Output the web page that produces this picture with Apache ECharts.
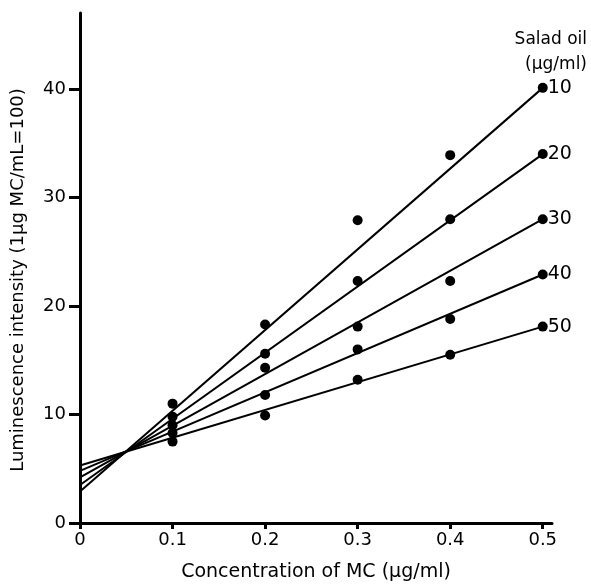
<!DOCTYPE html>
<html>
<head>
<meta charset="utf-8">
<script src="https://cdn.jsdelivr.net/npm/echarts@6/dist/echarts.min.js"></script>
<style>html,body{margin:0;padding:0;background:#fff}#c{width:591px;height:587px}</style>
</head>
<body>
<div id="c"></div>
<script>
// Salad oil concentrations (µg/ml)
const oilLevels = ['10', '20', '30', '40', '50'];
// MC concentrations (µg/ml)
const mcConc = [0.1, 0.2, 0.3, 0.4, 0.5];
// Measured luminescence for each oil level
const lum10 = [11.0, 18.3, 27.9, 33.9, 40.1];
const lum20 = [9.8, 15.6, 22.3, 28.0, 34.0];
const lum30 = [9.0, 14.3, 18.1, 22.3, 28.0];
const lum40 = [8.3, 11.8, 16.0, 18.8, 22.9];
const lum50 = [7.5, 9.9, 13.2, 15.5, 18.1];
// Fitted regression lines: value at x=0 and at x=0.5
const fitX = [0, 0.5];
const fit10 = [2.9, 40.1];
const fit20 = [3.5, 34.0];
const fit30 = [4.2, 28.0];
const fit40 = [4.8, 22.9];
const fit50 = [5.3, 18.1];
// Tick labels
const xTicks = [0, 0.1, 0.2, 0.3, 0.4, 0.5];
const yTicks = [0, 10, 20, 30, 40];

const points = [lum10, lum20, lum30, lum40, lum50];
const fits = [fit10, fit20, fit30, fit40, fit50];
const FONT = 'DejaVu Sans';

const series = [];
oilLevels.forEach((lvl, i) => {
  series.push({
    type: 'line', name: lvl,
    data: fitX.map((x, k) => [x, fits[i][k]]),
    showSymbol: false, silent: true,
    lineStyle: { color: '#000', width: 2 },
    endLabel: { show: true, formatter: lvl, color: '#000', fontFamily: FONT, fontSize: 19, distance: 5 },
    z: 2
  });
  series.push({
    type: 'scatter', name: 'p' + lvl,
    data: mcConc.map((x, k) => [x, points[i][k]]),
    symbol: 'circle', symbolSize: 10,
    itemStyle: { color: '#000', opacity: 1 },
    z: 3
  });
});

const chart = echarts.init(document.getElementById('c'), null, { renderer: 'canvas' });
chart.setOption({
  animation: false,
  backgroundColor: '#fff',
  grid: { left: 80, top: 13, width: 472, height: 515, containLabel: false },
  xAxis: {
    type: 'value', min: 0, max: 0.51, interval: 0.1,
    name: 'Concentration of MC (μg/ml)', nameLocation: 'middle', nameGap: 40,
    nameTextStyle: { color: '#000', fontFamily: FONT, fontSize: 19 },
    axisLine: { show: true, lineStyle: { color: '#000', width: 3 } },
    axisTick: { show: true, length: 6, lineStyle: { color: '#000', width: 3 } },
    axisLabel: {
      color: '#000', fontFamily: FONT, fontSize: 18, margin: 8, showMaxLabel: false,
      formatter: v => { const t = xTicks.find(a => Math.abs(a - v) < 1e-9); return t === undefined ? '' : String(t); }
    },
    splitLine: { show: false }
  },
  yAxis: {
    type: 'value', min: 0, max: 47, interval: 10,
    name: 'Luminescence intensity (1μg MC/mL=100)', nameLocation: 'middle', nameGap: 53,
    nameTextStyle: { color: '#000', fontFamily: FONT, fontSize: 18, padding: [0, 24, 0, 0] },
    axisLine: { show: true, lineStyle: { color: '#000', width: 3 } },
    axisTick: { show: true, length: 11, lineStyle: { color: '#000', width: 3 } },
    axisLabel: {
      color: '#000', fontFamily: FONT, fontSize: 18, margin: 14, showMaxLabel: false,
      formatter: v => (yTicks.indexOf(v) >= 0 ? String(v) : '')
    },
    splitLine: { show: false }
  },
  graphic: [
    { type: 'text', right: 4, top: 31, style: { text: 'Salad oil', fill: '#000', font: '17px "DejaVu Sans"', textAlign: 'right' } },
    { type: 'text', right: 4, top: 56, style: { text: '(μg/ml)', fill: '#000', font: '17px "DejaVu Sans"', textAlign: 'right' } }
  ],
  series: series
});
</script>
</body>
</html>
